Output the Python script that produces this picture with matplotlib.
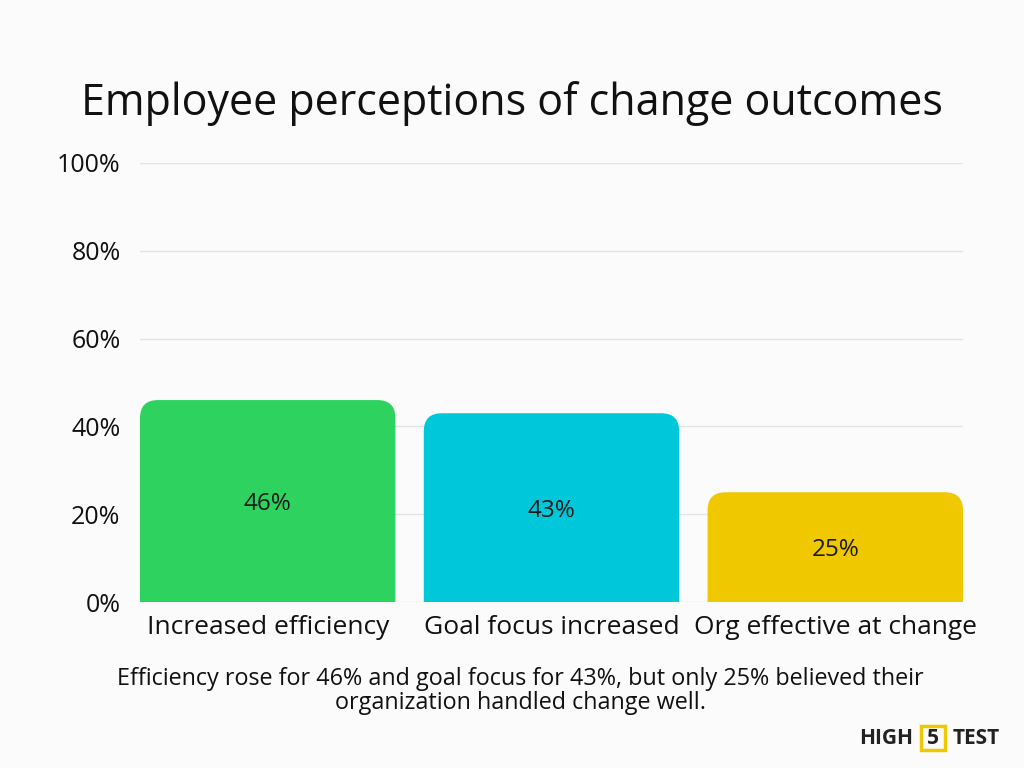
import numpy as np
import matplotlib.pyplot as plt
from matplotlib.path import Path
from matplotlib.patches import PathPatch, Rectangle

plt.rcParams['font.family'] = ['Open Sans', 'DejaVu Sans']

# Data
categories = ['Increased efficiency', 'Goal focus increased', 'Org effective at change']
values = [46, 43, 25]
colors = ['#2ED35F', '#00C8DA', '#F0C800']
y_ticks = [0, 20, 40, 60, 80, 100]
title = 'Employee perceptions of change outcomes'
caption = ('Efficiency rose for 46% and goal focus for 43%, but only 25% believed their\n'
           'organization handled change well.')

bg = '#FBFBFB'
fig = plt.figure(figsize=(10.24, 7.68), dpi=100, facecolor=bg)
ax = fig.add_axes([140 / 1024, 1 - 602 / 768, 823 / 1024, 439 / 768])
ax.set_facecolor(bg)

width = 0.9
ax.set_xlim(-0.45, len(categories) - 0.55)
ax.set_ylim(0, 100)

# corner radius in data units (about 18 px)
rx = 18 * (len(categories) - 0.1) / 823
ry = 18 * 100 / 439


def rounded_top_bar(x0, w, h):
    x1 = x0 + w
    verts = [(x0, 0), (x0, h - ry), (x0, h), (x0 + rx, h),
             (x1 - rx, h), (x1, h), (x1, h - ry), (x1, 0), (x0, 0)]
    codes = [Path.MOVETO, Path.LINETO, Path.CURVE3, Path.CURVE3,
             Path.LINETO, Path.CURVE3, Path.CURVE3, Path.LINETO, Path.CLOSEPOLY]
    return PathPatch(Path(verts, codes), linewidth=0, zorder=3)


for i, (v, c) in enumerate(zip(values, colors)):
    p = rounded_top_bar(i - width / 2, width, v)
    p.set_facecolor(c)
    ax.add_patch(p)
    ax.text(i, v / 2, f'{v}%', ha='center', va='center_baseline', fontsize=17.5,
            color='#1a1a1a', zorder=4)

ax.set_yticks(y_ticks)
ax.set_yticklabels([f'{t}%' for t in y_ticks])
ax.set_xticks(range(len(categories)))
ax.set_xticklabels(categories)
ax.tick_params(axis='y', length=0, labelsize=18, colors='#111111', pad=14)
ax.tick_params(axis='x', length=0, labelsize=19, colors='#111111', pad=9.5)
ax.grid(axis='y', color='#E3E3E3', linewidth=1, zorder=0)
for s in ax.spines.values():
    s.set_visible(False)

fig.text(0.5, 1 - 104 / 768, title, ha='center', va='center', fontsize=31, color='#111111')
fig.text(0.508, 1 - 691 / 768, caption, ha='center', va='center', fontsize=16.8,
         color='#111111', linespacing=1.0)

# logo
ly = 1 - 738 / 768
fig.text(913 / 1024, ly, 'HIGH', ha='right', va='center', fontsize=15,
         fontweight='bold', color='#222222')
fig.text(933 / 1024, ly, '5', ha='center', va='center', fontsize=15,
         fontweight='bold', color='#222222')
fig.patches.append(Rectangle((921 / 1024, 1 - 750 / 768), 24 / 1024, 24 / 768,
                             transform=fig.transFigure, fill=False,
                             edgecolor='#F0C800', linewidth=2.5))
fig.text(953 / 1024, ly, 'TEST', ha='left', va='center', fontsize=15,
         fontweight='bold', color='#222222')

fig.savefig('out.png', dpi=100, facecolor=bg)
